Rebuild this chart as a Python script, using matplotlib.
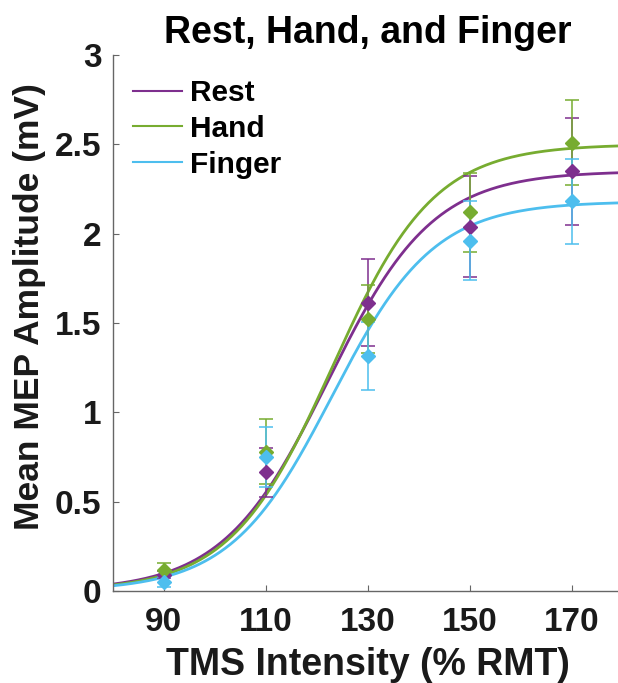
import numpy as np
import matplotlib
matplotlib.use("Agg")
import matplotlib.pyplot as plt

plt.rcParams['font.family'] = ['Liberation Sans', 'DejaVu Sans']
plt.rcParams['font.weight'] = 'bold'

# ---- data ----
intensity = [90, 110, 130, 150, 170]
conditions = ["Rest", "Hand", "Finger"]
rest_mean = [0.09, 0.664, 1.613, 2.04, 2.35]
rest_err = [0.02, 0.138, 0.243, 0.28, 0.30]
hand_mean = [0.12, 0.78, 1.52, 2.12, 2.51]
hand_err = [0.035, 0.18, 0.19, 0.22, 0.24]
finger_mean = [0.05, 0.75, 1.317, 1.96, 2.18]
finger_err = [0.03, 0.17, 0.19, 0.22, 0.24]
# Boltzmann fit parameters per condition: [MEPmax, S50, slope]
rest_fit = [2.35, 122.2, 10.3]
hand_fit = [2.50, 123.0, 10.0]
finger_fit = [2.18, 123.0, 10.0]
xticks = [90, 110, 130, 150, 170]
yticks = [0, 0.5, 1, 1.5, 2, 2.5, 3]
yticklabels = ["0", "0.5", "1", "1.5", "2", "2.5", "3"]

colors = ["#7E2F8E", "#77AC30", "#4DBEEE"]

fig = plt.figure(figsize=(6.18, 6.83), dpi=100)
ax = fig.add_axes([0.1824, 0.1347, 0.8252, 0.7848])

xs = np.linspace(80, 180, 400)
means = [rest_mean, hand_mean, finger_mean]
errs = [rest_err, hand_err, finger_err]
fits = [rest_fit, hand_fit, finger_fit]

for name, m, e, f, c in zip(conditions, means, errs, fits, colors):
    mx, s50, k = f
    ax.plot(xs, mx / (1 + np.exp((s50 - xs) / k)), color=c, lw=2.0, label=name, zorder=2)

for name, m, e, f, c in zip(conditions, means, errs, fits, colors):
    ax.errorbar(intensity, m, yerr=e, fmt='D', color=c, ms=7.5, mec=c, mfc=c,
                elinewidth=1.1, capsize=5, capthick=1.1, zorder=3)

ax.set_xlim(80, 180)
ax.set_ylim(0, 3)
ax.set_xticks(xticks)
ax.set_yticks(yticks)
ax.set_yticklabels(yticklabels)
for s in ['top', 'right']:
    ax.spines[s].set_visible(False)
for s in ['left', 'bottom']:
    ax.spines[s].set_color('#666666')
    ax.spines[s].set_linewidth(1.0)
ax.tick_params(direction='in', length=4, width=0.8, color='#666666',
               labelsize=24, labelcolor='#1a1a1a')
ax.tick_params(axis='y', pad=8)
ax.tick_params(axis='x', pad=11.5)
for lab in ax.get_xticklabels() + ax.get_yticklabels():
    lab.set_fontweight('bold')

ax.set_xlabel("TMS Intensity (% RMT)", fontsize=27, fontweight='bold', color='#1a1a1a')
ax.set_ylabel("Mean MEP Amplitude (mV)", fontsize=25.5, fontweight='bold', color='#1a1a1a')
ax.yaxis.set_label_coords(-0.131, 0.53)
ax.xaxis.set_label_coords(0.5, -0.105)
ax.set_title("Rest, Hand, and Finger", fontsize=27, fontweight='bold', pad=8.6)

leg = ax.legend(loc='upper left', bbox_to_anchor=(0.04, 0.955), frameon=False,
                fontsize=21.5, handlelength=1.65, handletextpad=0.25,
                labelspacing=0.26, borderpad=0, borderaxespad=0)
for t in leg.get_texts():
    t.set_fontweight('bold')
for h in leg.get_lines():
    h.set_linewidth(1.5)

fig.savefig("out.png", dpi=100)
